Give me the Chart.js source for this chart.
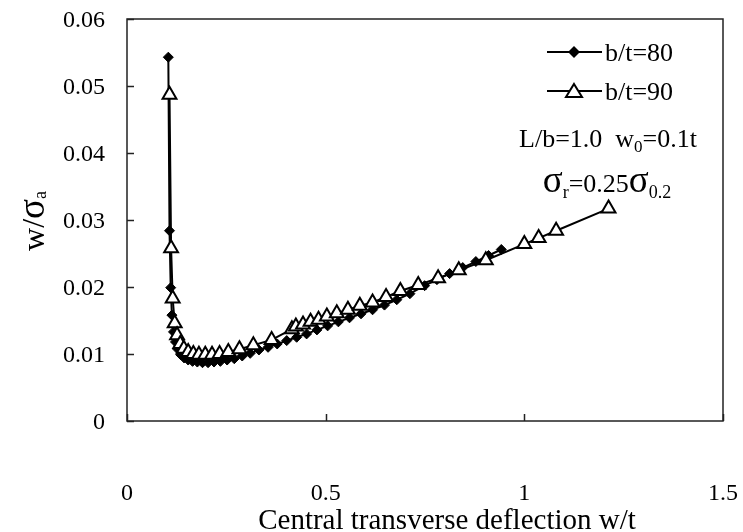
<!DOCTYPE html>
<html>
<head>
<meta charset="utf-8">
<script src="https://cdn.jsdelivr.net/npm/chart.js@4.4.0/dist/chart.umd.min.js"></script>
<style>
  html, body { margin: 0; padding: 0; background: #fff; }
  #wrap { width: 743px; height: 532px; position: relative; }
</style>
</head>
<body>
<div id="wrap"><canvas id="myChart" width="743" height="532"></canvas></div>
<script>
// du lieu doc tu hinh
var xTicks = [0, 0.5, 1, 1.5];
var yTicks = [0, 0.01, 0.02, 0.03, 0.04, 0.05, 0.06];

var bt80_x = [0.104, 0.107, 0.110, 0.113, 0.117, 0.122, 0.128, 0.135, 0.144, 0.154, 0.165, 0.177, 0.190, 0.204,
    0.219, 0.235, 0.252, 0.270, 0.290, 0.310, 0.332, 0.355, 0.378, 0.402, 0.427, 0.452, 0.478, 0.505, 0.532,
    0.560, 0.589, 0.618, 0.648, 0.679, 0.712, 0.749, 0.780, 0.812, 0.845, 0.878, 0.910, 0.942];
var bt80_y = [0.0543, 0.0284, 0.0199, 0.0158, 0.0133, 0.0118, 0.0107, 0.0099, 0.0094, 0.0091, 0.0089, 0.0088, 0.0087, 0.0087,
    0.0088, 0.0089, 0.0091, 0.0093, 0.0097, 0.0101, 0.0106, 0.0110, 0.0115, 0.0120, 0.0125, 0.0130, 0.0136, 0.0142, 0.0148,
    0.0154, 0.0160, 0.0166, 0.0173, 0.0181, 0.0190, 0.0202, 0.0211, 0.0220, 0.0229, 0.0238, 0.0247, 0.0256];

var bt90_x = [0.107, 0.111, 0.115, 0.120, 0.126, 0.134, 0.143, 0.154, 0.167, 0.181, 0.197, 0.214, 0.233, 0.255,
    0.283, 0.318, 0.364, 0.415, 0.425, 0.443, 0.462, 0.482, 0.503, 0.528, 0.556, 0.586, 0.618, 0.652,
    0.688, 0.733, 0.783, 0.835, 0.903, 1.000, 1.036, 1.080, 1.212];
var bt90_y = [0.0487, 0.0258, 0.0183, 0.0146, 0.0128, 0.0115, 0.0108, 0.0103, 0.0100, 0.0099, 0.0099, 0.0099, 0.0100, 0.0103,
    0.0107, 0.0113, 0.0121, 0.0137, 0.0141, 0.0144, 0.0148, 0.0151, 0.0156, 0.0161, 0.0166, 0.0172, 0.0177, 0.0185,
    0.0194, 0.0203, 0.0213, 0.0225, 0.0240, 0.0264, 0.0273, 0.0284, 0.0317];

var seriesNames = ["b/t=80", "b/t=90"];

function toPoints(xs, ys) {
    var pts = [];
    for (var i = 0; i < xs.length; i++) pts.push({ x: xs[i], y: ys[i] });
    return pts;
}

var SERIF = '"Liberation Serif", "Times New Roman", serif';

// ve chu co chi so duoi
function drawParts(ctx, parts, x, y, align) {
    var w = 0;
    parts.forEach(function (p) {
        ctx.font = p.size + 'px ' + SERIF;
        w += ctx.measureText(p.t).width;
    });
    var cx = align === 'center' ? x - w / 2 : (align === 'right' ? x - w : x);
    parts.forEach(function (p) {
        ctx.font = p.size + 'px ' + SERIF;
        ctx.fillText(p.t, cx, y + (p.dy || 0));
        cx += ctx.measureText(p.t).width;
    });
}

var decorPlugin = {
    id: 'decor',
    afterDraw: function (chart) {
        var ctx = chart.ctx;
        var a = chart.chartArea;
        var xs = chart.scales.x, ys = chart.scales.y;
        ctx.save();
        // khung
        ctx.strokeStyle = '#222';
        ctx.lineWidth = 1.5;
        ctx.strokeRect(a.left, a.top, a.right - a.left, a.bottom - a.top);
        // vach chia huong vao trong
        ctx.beginPath();
        yTicks.forEach(function (v) {
            var py = Math.round(ys.getPixelForValue(v)) + 0.5;
            ctx.moveTo(a.left, py); ctx.lineTo(a.left + 7, py);
        });
        xTicks.forEach(function (v) {
            var px = Math.round(xs.getPixelForValue(v)) + 0.5;
            ctx.moveTo(px, a.bottom); ctx.lineTo(px, a.bottom - 7);
        });
        ctx.stroke();

        ctx.fillStyle = '#000';
        ctx.textBaseline = 'alphabetic';

        // nhan vach chia
        yTicks.forEach(function (v) {
            var py = ys.getPixelForValue(v);
            drawParts(ctx, [{ t: String(v), size: 24 }], 105, py + 8, 'right');
        });
        xTicks.forEach(function (v) {
            var px = xs.getPixelForValue(v);
            drawParts(ctx, [{ t: String(v), size: 24 }], px, 500, 'center');
        });

        // tieu de truc x
        drawParts(ctx, [{ t: 'Central transverse deflection w/t', size: 29 }], 447, 529, 'center');

        // tieu de truc y
        ctx.save();
        ctx.translate(44, 221);
        ctx.rotate(-Math.PI / 2);
        drawParts(ctx, [{ t: 'w/', size: 32 }, { t: 'σ', size: 37 }, { t: 'a', size: 18, dy: 2 }], 0, 0, 'center');
        ctx.restore();

        // chu giai
        var legendRows = [
            { y: 52, style: 'diamond' },
            { y: 91, style: 'triangle' }
        ];
        ctx.lineWidth = 2;
        ctx.strokeStyle = '#000';
        legendRows.forEach(function (r, i) {
            ctx.beginPath();
            ctx.moveTo(547, r.y); ctx.lineTo(602, r.y);
            ctx.stroke();
            if (r.style === 'diamond') {
                ctx.beginPath();
                ctx.moveTo(574, r.y - 6); ctx.lineTo(580, r.y); ctx.lineTo(574, r.y + 6); ctx.lineTo(568, r.y);
                ctx.closePath();
                ctx.fillStyle = '#000';
                ctx.fill();
            } else {
                ctx.beginPath();
                ctx.moveTo(574, r.y - 7); ctx.lineTo(582, r.y + 6); ctx.lineTo(566, r.y + 6);
                ctx.closePath();
                ctx.fillStyle = '#fff';
                ctx.fill();
                ctx.stroke();
            }
            ctx.fillStyle = '#000';
            drawParts(ctx, [{ t: seriesNames[i], size: 26 }], 605, r.y + 9, 'left');
        });

        drawParts(ctx, [{ t: 'L/b=1.0  w', size: 26 }, { t: '0', size: 17, dy: 5 }, { t: '=0.1t', size: 26 }], 608, 147, 'center');
        drawParts(ctx, [{ t: 'σ', size: 37 }, { t: 'r', size: 18, dy: 6 }, { t: '=0.25', size: 26 },
            { t: 'σ', size: 37 }, { t: '0.2', size: 18, dy: 6 }], 607, 192, 'center');
        ctx.restore();
    }
};

new Chart("myChart", {
    type: "scatter",
    data: {
        datasets: [{
            label: seriesNames[0],
            data: toPoints(bt80_x, bt80_y),
            showLine: true,
            borderColor: '#000',
            borderWidth: 2,
            backgroundColor: '#000',
            pointStyle: 'rectRot',
            pointRadius: 5,
            pointBorderWidth: 1,
            order: 1
        }, {
            label: seriesNames[1],
            data: toPoints(bt90_x, bt90_y),
            showLine: true,
            borderColor: '#000',
            borderWidth: 2,
            pointBackgroundColor: '#fff',
            pointBorderColor: '#000',
            pointStyle: 'triangle',
            pointRadius: 8,
            pointBorderWidth: 2,
            order: 0
        }]
    },
    options: {
        responsive: false,
        animation: false,
        layout: { padding: { top: 19, right: 20, left: 0, bottom: 0 } },
        plugins: {
            legend: { display: false },
            tooltip: { enabled: false }
        },
        scales: {
            x: {
                type: 'linear',
                min: 0, max: 1.5,
                border: { display: false },
                grid: { display: false, drawTicks: false },
                afterFit: function (s) { s.height = 111; },
                afterBuildTicks: function (s) { s.ticks = xTicks.map(function (v) { return { value: v }; }); },
                ticks: { display: false }
            },
            y: {
                type: 'linear',
                min: 0, max: 0.06,
                border: { display: false },
                grid: { display: false, drawTicks: false },
                afterFit: function (s) { s.width = 127; },
                afterBuildTicks: function (s) { s.ticks = yTicks.map(function (v) { return { value: v }; }); },
                ticks: { display: false }
            }
        }
    },
    plugins: [decorPlugin]
});
</script>
</body>
</html>
